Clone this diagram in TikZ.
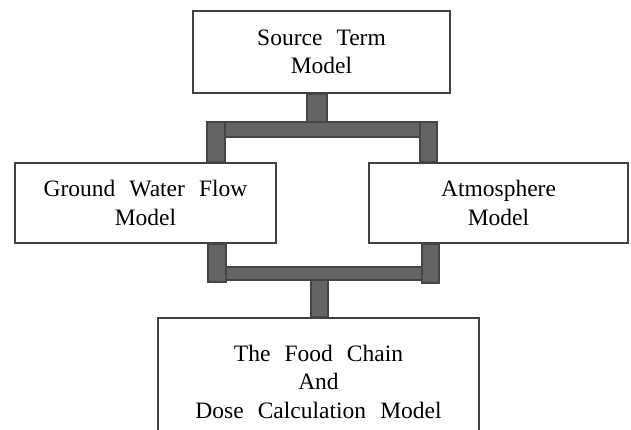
\documentclass[tikz,border=0pt]{standalone}
\usepackage{fontspec}
\setmainfont{Liberation Serif}
\usetikzlibrary{calc}
\definecolor{boxedge}{HTML}{404040}
\definecolor{pipefill}{HTML}{646464}
\definecolor{pipeedge}{HTML}{454545}
\newcommand\modelfont{\fontsize{23.5}{28.5}\selectfont\spaceskip=0.6em\relax}
\tikzset{
  model/.style={draw=boxedge, line width=2pt, fill=white, align=center, inner sep=0pt, font=\modelfont},
  pipe/.style={fill=pipefill, draw=pipeedge, line width=1.5pt}
}
\begin{document}
\begin{tikzpicture}[x=1pt, y=-1pt, line join=miter]
% Khung hình
\clip (0,0) rectangle (631,429);
\fill[white] (0,0) rectangle (631,429);
% Các khối mô hình
\node[model, minimum width=257, minimum height=82] (src) at (321.5,52) {Source Term\\Model};
\node[model, minimum width=261, minimum height=80] (gw) at (145.5,203) {Ground Water Flow\\Model};
\node[model, minimum width=259, minimum height=80] (atm) at (498.5,203) {Atmosphere\\Model};
\node[model, minimum width=321, minimum height=127] (food) at (318.5,381.5) {The Food Chain\\And\\Dose Calculation Model};
% Ống nối phía trên
\coordinate (sj) at (317,122);
\coordinate (lj) at (216,122);
\coordinate (rj) at (428.5,122);
\draw[pipe] ([xshift=-10pt]sj) rectangle ([xshift=10pt]sj |- src.south);
\draw[pipe] ([xshift=-9pt]lj) rectangle ([xshift=9pt]lj |- gw.north);
\draw[pipe] ([xshift=-8.5pt]rj) rectangle ([xshift=8.5pt]rj |- atm.north);
\draw[pipe] ([xshift=9pt]lj) rectangle ([xshift=-8.5pt,yshift=-15pt]rj);
% Ống nối phía dưới
\coordinate (lk) at (217,282);
\coordinate (rk) at (430.5,283);
\coordinate (sk) at (319.5,280);
\draw[pipe] ([xshift=-9pt]lk) rectangle ([xshift=9pt]lk |- gw.south);
\draw[pipe] ([xshift=-8.5pt]rk) rectangle ([xshift=8.5pt]rk |- atm.south);
\draw[pipe] ([xshift=9pt,yshift=2pt]lk) rectangle ([xshift=-8.5pt,yshift=16pt]rk);
\draw[pipe] ([xshift=-8.5pt]sk) rectangle ([xshift=8.5pt]sk |- food.north);
\end{tikzpicture}
\end{document}
